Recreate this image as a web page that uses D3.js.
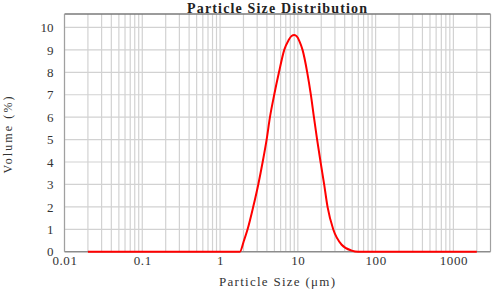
<!DOCTYPE html>
<html><head><meta charset="utf-8">
<script src="https://cdn.jsdelivr.net/npm/d3@7"></script>
<style>body{margin:0;background:#fff}svg{display:block}</style>
</head><body>
<svg id="c" width="500" height="293"></svg>
<script>
// Data
const sizes = [0.02, 0.1, 1, 1.8, 2.03, 2.26, 2.67, 3.10, 3.53, 3.97, 4.38, 4.97, 5.72, 6.69, 7.6, 8.3, 9.0, 9.7, 10.5, 11.5, 13.2, 14.7, 16.1, 17.7, 19.6, 21.8, 24.1, 28.5, 36.6, 49.2, 59.7, 100, 1000, 2000];
const volumes = [0, 0, 0, 0, 0.5, 1, 2, 3, 4, 5, 6, 7, 8, 9, 9.43, 9.62, 9.66, 9.6, 9.38, 9, 8, 7, 6, 5, 4, 3, 2, 1, 0.31, 0.05, 0, 0, 0, 0];
const xTicks = [0.01, 0.1, 1, 10, 100, 1000];
const xTickLabels = ["0.01", "0.1", "1", "10", "100", "1000"];
const yTicks = [0, 1, 2, 3, 4, 5, 6, 7, 8, 9, 10];
const title = "Particle Size Distribution";
const xTitle = "Particle Size (\u03bcm)";
const yTitle = "Volume (%)";

const svg = d3.select("#c");
const x = d3.scaleLog().domain([0.01, 3000]).range([64.5, 490.5]);
const y = d3.scaleLinear().domain([0, 10.6]).range([251.7, 14]);

// vertical grid
const vgrid = [];
[0.01, 0.1, 1, 10, 100, 1000].forEach(d => { for (let m = 1; m <= 9; m++) { const v = d * m; if (v < 3000) vgrid.push(v); } });
svg.append("g").selectAll("line").data(vgrid).join("line")
  .attr("x1", d => x(d)).attr("x2", d => x(d))
  .attr("y1", y.range()[1]).attr("y2", y.range()[0])
  .attr("stroke", "#d2d2d2").attr("stroke-width", 1.2);
// horizontal grid
svg.append("g").selectAll("line").data(yTicks.slice(1)).join("line")
  .attr("x1", x.range()[0]).attr("x2", x.range()[1])
  .attr("y1", d => y(d)).attr("y2", d => y(d))
  .attr("stroke", "#d2d2d2").attr("stroke-width", 1.2);

// border
const [x0, x1] = x.range();
const [yb, yt] = y.range();
svg.append("line").attr("x1", x0).attr("x2", x1).attr("y1", yt).attr("y2", yt).attr("stroke", "#7a7a7a").attr("stroke-width", 1.5);
svg.append("line").attr("x1", x1).attr("x2", x1).attr("y1", yt).attr("y2", yb).attr("stroke", "#a0a0a0").attr("stroke-width", 1.2);
svg.append("line").attr("x1", x0).attr("x2", x0).attr("y1", yt).attr("y2", yb).attr("stroke", "#a0a0a0").attr("stroke-width", 1.2);
svg.append("line").attr("x1", x0).attr("x2", x1).attr("y1", yb).attr("y2", yb).attr("stroke", "#8c8c8c").attr("stroke-width", 1.5);

// axes
const yAxis = svg.append("g").attr("transform", `translate(${x0},0)`)
  .call(d3.axisLeft(y).tickValues(yTicks).tickSize(0).tickPadding(11).tickFormat(d3.format("d")));
yAxis.select(".domain").remove();
yAxis.selectAll("text").style("font-family", "'Liberation Serif', serif").style("font-size", "13px").attr("fill", "#333");

const xAxis = svg.append("g").attr("transform", `translate(0,${yb})`)
  .call(d3.axisBottom(x).tickValues(xTicks).tickSize(0).tickPadding(4).tickFormat((d, i) => xTickLabels[i]));
xAxis.select(".domain").remove();
xAxis.selectAll("text").style("font-family", "'Liberation Serif', serif").style("font-size", "13px").attr("fill", "#333")
  .attr("letter-spacing", 0.6);

// curve
const pts = sizes.map((s, i) => [s, volumes[i]]);
svg.append("path").datum(pts)
  .attr("d", d3.line().x(d => x(d[0])).y(d => y(d[1])).curve(d3.curveMonotoneX))
  .attr("fill", "none").attr("stroke", "#ff0000").attr("stroke-width", 2);

// titles
svg.append("text").attr("x", 277).attr("y", 13).attr("text-anchor", "middle")
  .style("font-family", "'Liberation Serif', serif").style("font-size", "14px").attr("font-weight", "bold")
  .attr("textLength", 180).attr("lengthAdjust", "spacing").attr("fill", "#222").text(title);
svg.append("text").attr("x", 277).attr("y", 286).attr("text-anchor", "middle")
  .style("font-family", "'Liberation Serif', serif").style("font-size", "13px")
  .attr("textLength", 116).attr("lengthAdjust", "spacing").attr("fill", "#333").text(xTitle);
svg.append("text").attr("transform", "translate(12,135) rotate(-90)").attr("text-anchor", "middle")
  .style("font-family", "'Liberation Serif', serif").style("font-size", "12px")
  .attr("textLength", 77).attr("lengthAdjust", "spacing").attr("fill", "#333").text(yTitle);
</script>
</body></html>
